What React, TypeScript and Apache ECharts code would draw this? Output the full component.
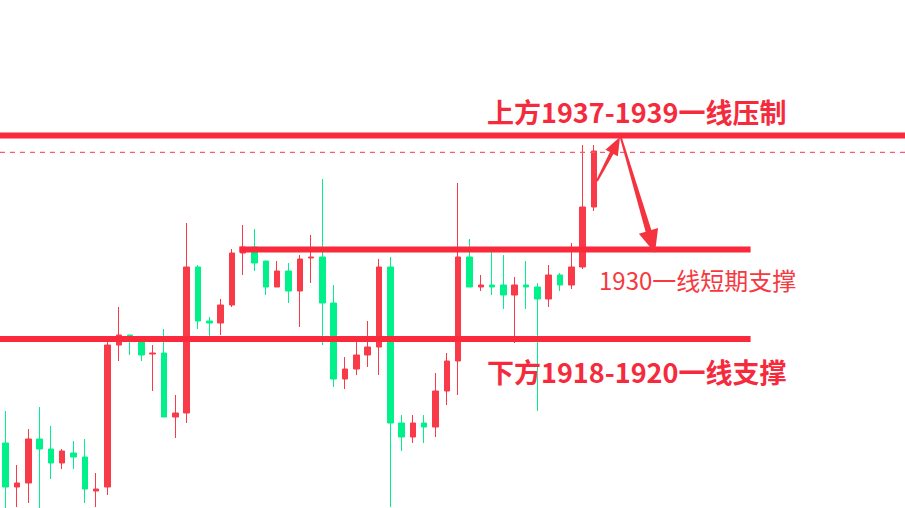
import React, { useEffect, useRef } from "react";
import * as echarts from "echarts";

// Candle data (price units), index 0..52
const opens = [1910.7,1906.3,1906.7,1911.1,1910.1,1908.7,1909.7,1909.3,1905.9,1906.3,
  1920.5,1921.5,1921.1,1919.6,1919.7,1913.3,1913.7,1928.3,1922.9,1922.7,
  1924.5,1929.7,1930.3,1928.9,1926.3,1927.9,1925.9,1929.2,1929.3,1924.7,
  1917.1,1918.1,1919.5,1920.3,1928.3,1912.7,1911.3,1912.7,1912.3,1915.9,
  1918.9,1929.3,1926.3,1926.5,1926.5,1925.5,1926.5,1926.3,1925.1,1927.5,
  1926.5,1928.3,1934.3];
const closes = [1906.3,1906.7,1911.1,1910.1,1908.7,1909.9,1909.3,1906.1,1906.1,1920.5,
  1921.5,1921.4,1919.5,1919.7,1913.3,1913.7,1928.3,1922.9,1922.7,1924.5,
  1929.7,1930.3,1928.7,1926.3,1927.9,1925.9,1929.1,1929.3,1924.7,1917.1,
  1918.1,1919.5,1920.3,1928.3,1912.7,1911.3,1912.7,1912.3,1915.9,1918.9,
  1929.3,1926.3,1926.5,1926.3,1925.5,1926.5,1926.3,1925.1,1927.5,1926.5,
  1928.3,1934.3,1939.9];
const lows = [1904.0,1904.3,1904.7,1904.2,1907.1,1908.1,1908.1,1904.7,1904.3,1905.5,
  1918.9,1919.5,1918.9,1915.9,1913.3,1911.2,1912.7,1922.1,1921.3,1921.5,
  1924.3,1927.5,1927.9,1925.5,1926.3,1924.7,1922.3,1926.7,1920.5,1916.3,
  1916.1,1917.5,1918.3,1917.5,1904.3,1909.9,1910.7,1910.7,1911.3,1914.5,
  1915.5,1926.3,1925.9,1925.5,1924.1,1920.7,1924.1,1913.9,1924.3,1925.9,
  1926.1,1928.1,1933.9];
const highs = [1913.9,1908.5,1912.1,1914.3,1912.4,1910.1,1910.9,1911.1,1907.7,1920.8,
  1924.3,1921.5,1921.3,1920.5,1922.1,1915.5,1932.7,1928.5,1923.3,1925.1,
  1930.1,1932.5,1932.1,1928.9,1928.9,1928.7,1929.5,1931.5,1937.1,1926.5,
  1919.3,1921.1,1922.9,1929.1,1929.3,1913.5,1913.5,1913.5,1917.7,1919.7,
  1936.7,1931.1,1927.5,1929.9,1929.5,1927.3,1928.9,1926.7,1928.5,1927.7,
  1930.7,1940.5,1940.5];

const SLOT_COUNT = 80; // visible slots (data + empty space on the right)
const categories = Array.from({ length: SLOT_COUNT }, (_, i) => "K" + (i + 1));

// Horizontal levels (price) and their extent in slot-index units
const levelValues = [1941.45, 1939.77, 1930.05, 1921.1];
const levelStart = [-0.5, -0.5, 20.65, -0.5];
const levelEnd = [79.5, 79.5, 65.85, 65.85];
const levelWidth = [6, 1.2, 6, 6];
const levelDashed = [false, true, false, false];

const labelTexts = ["上方1937-1939一线压制", "1930一线短期支撑", "下方1918-1920一线支撑"];

const RED = "#F93A48";
const LINE_RED = "#FA2A3C";
const GREEN = "#00F08A";
const TEXT_RED = "#F52A3C";
const FONT = '"Noto Sans CJK SC", "Noto Sans", sans-serif';

function arrowPolygon(x0: number, y0: number, x1: number, y1: number, headLen: number, headHalf: number, w0: number, w1: number) {
  const dx = x1 - x0, dy = y1 - y0;
  const len = Math.sqrt(dx * dx + dy * dy);
  const ux = dx / len, uy = dy / len;
  const nx = -uy, ny = ux;
  const bx = x1 - ux * headLen, by = y1 - uy * headLen;
  return [
    [x0 + nx * w0, y0 + ny * w0],
    [bx + nx * w1, by + ny * w1],
    [bx + nx * headHalf, by + ny * headHalf],
    [x1, y1],
    [bx - nx * headHalf, by - ny * headHalf],
    [bx - nx * w1, by - ny * w1],
    [x0 - nx * w0, y0 - ny * w0],
  ];
}

export default function App() {
  const ref = useRef<HTMLDivElement>(null);
  useEffect(() => {
    if (!ref.current) return;
    const chart = echarts.init(ref.current, undefined, { renderer: "svg" });
    const candleData = opens.map((o, i) => [o, closes[i], lows[i], highs[i]]);
    const levelSeries = levelValues.map((v, i) => ({
      type: "line",
      xAxisIndex: 1,
      yAxisIndex: 0,
      symbol: "none",
      silent: true,
      z: 5,
      data: [[levelStart[i], v], [levelEnd[i], v]],
      lineStyle: {
        color: levelDashed[i] ? "#F2606E" : LINE_RED,
        width: levelWidth[i],
        type: levelDashed[i] ? [5, 5] : "solid",
        cap: "butt",
      },
    }));
    chart.setOption({
      animation: false,
      backgroundColor: "#ffffff",
      grid: { left: 0, top: 0, width: 908, height: 508, containLabel: false },
      xAxis: [
        { type: "category", data: categories, show: false, boundaryGap: true },
        { type: "value", min: -0.5, max: SLOT_COUNT - 0.5, show: false },
      ],
      yAxis: { type: "value", min: 1904.2, max: 1955, show: false, splitLine: { show: false } },
      series: [
        {
          type: "candlestick",
          data: candleData,
          barWidth: 6,
          itemStyle: {
            color: RED,
            color0: GREEN,
            borderColor: RED,
            borderColor0: GREEN,
            borderWidth: 1,
          },
          z: 2,
        },
        ...levelSeries,
      ],
      graphic: [
        {
          type: "text",
          x: 487,
          y: 111,
          z: 10,
          style: { text: labelTexts[0], fill: TEXT_RED, fontSize: 27, fontWeight: "bold", fontFamily: FONT, verticalAlign: "middle" },
        },
        {
          type: "text",
          x: 599,
          y: 279,
          z: 10,
          style: { text: labelTexts[1], fill: "#F5393F", fontSize: 24, fontWeight: "normal", fontFamily: FONT, verticalAlign: "middle" },
        },
        {
          type: "text",
          x: 487,
          y: 371,
          z: 10,
          style: { text: labelTexts[2], fill: TEXT_RED, fontSize: 27, fontWeight: "bold", fontFamily: FONT, verticalAlign: "middle" },
        },
        {
          type: "polygon",
          z: 10,
          shape: { points: arrowPolygon(597, 181, 620, 137, 18, 7, 1, 2) },
          style: { fill: "#F5333F" },
        },
        {
          type: "polygon",
          z: 10,
          shape: { points: arrowPolygon(621, 138, 655, 253, 23, 10, 1, 3) },
          style: { fill: "#F5333F" },
        },
      ],
    });
    return () => chart.dispose();
  }, []);
  return (
    <div
      ref={ref}
      style={{ position: "absolute", left: 0, top: 0, width: 905, height: 508, background: "#fff" }}
    />
  );
}
